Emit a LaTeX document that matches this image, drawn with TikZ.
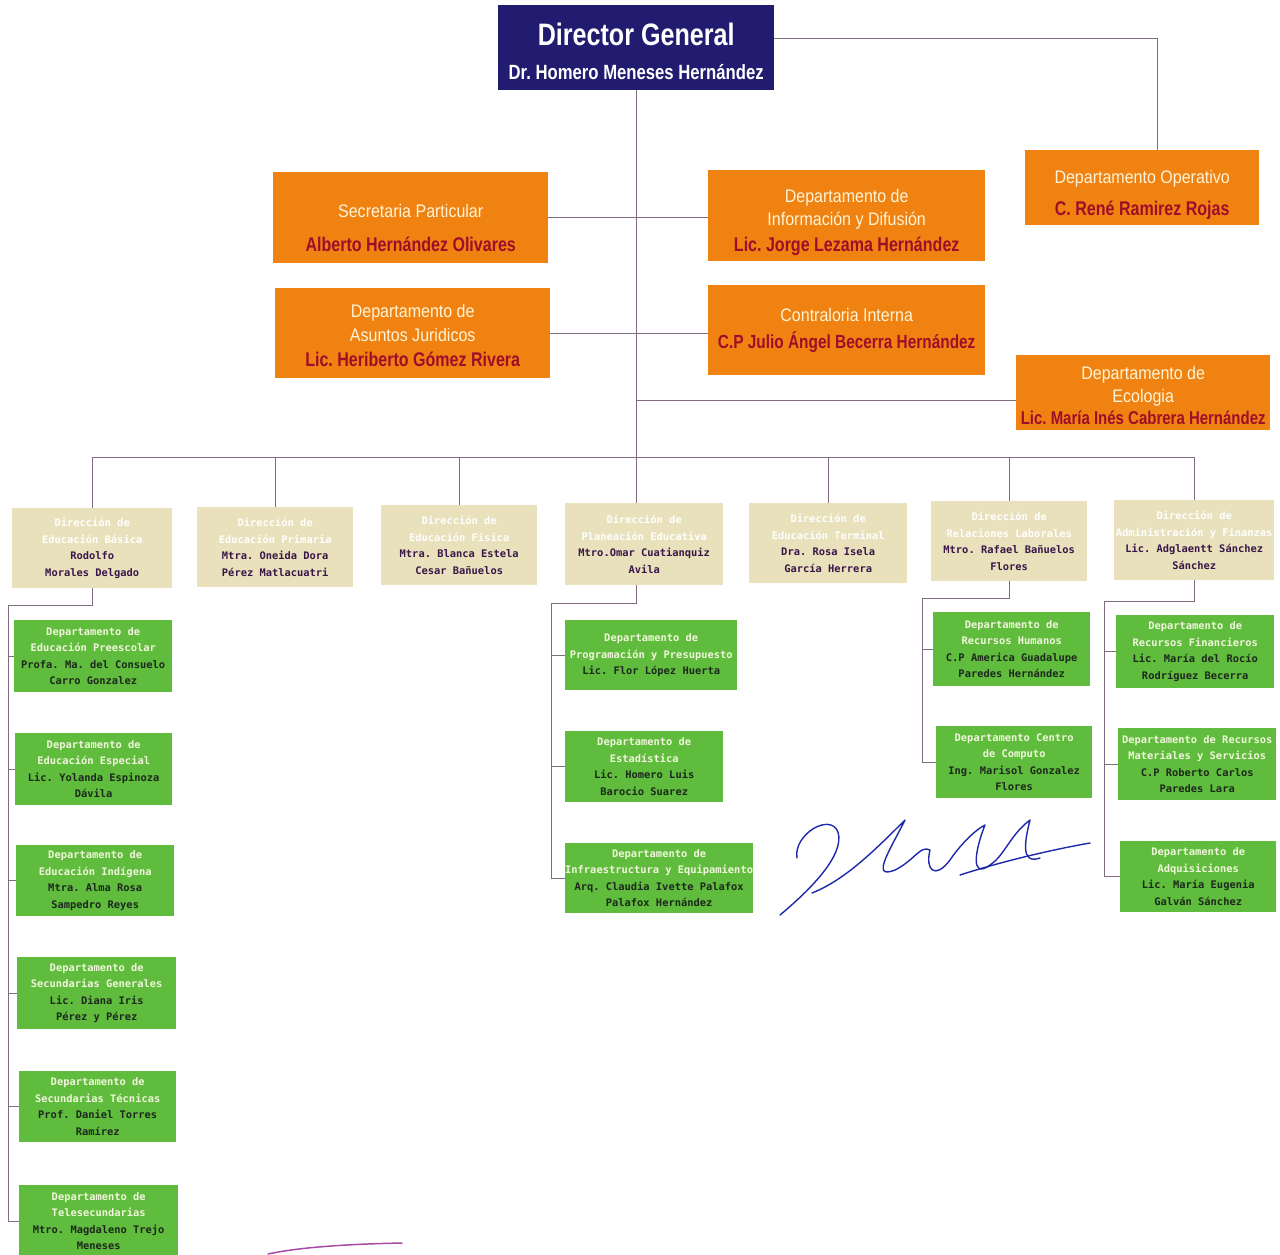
\documentclass[tikz,border=0pt]{standalone}
\usepackage{fontspec}
\newfontfamily\narrowfont[FakeStretch=0.88]{Liberation Sans}
\newfontfamily\narrowb[FakeStretch=0.81]{Liberation Sans}
\newfontfamily\boxmono{DejaVu Sans Mono}
\definecolor{navy}{RGB}{34,28,112}
\definecolor{orng}{RGB}{240,130,18}
\definecolor{otext}{RGB}{255,244,215}
\definecolor{oname}{RGB}{158,14,42}
\definecolor{beige}{RGB}{232,225,188}
\definecolor{bname}{RGB}{58,22,72}
\definecolor{grn}{RGB}{96,188,60}
\definecolor{gtext}{RGB}{240,246,220}
\definecolor{gname}{RGB}{28,40,30}
\definecolor{linec}{RGB}{128,108,128}
\definecolor{sigblue}{RGB}{30,40,170}
\newcommand\onm[1]{{\narrowb\bfseries\fontsize{19.8}{23}\selectfont\color{oname}#1}}
\newcommand\bnm[1]{\textcolor{bname}{#1}}
\newcommand\gnm[1]{\textcolor{gname}{#1}}
\frenchspacing
\begin{document}
\begin{tikzpicture}[x=1pt,y=-1pt,
  box/.style={rectangle, inner sep=0pt, anchor=north west, align=center},
  sz/.style 2 args={minimum width=#1pt, minimum height=#2pt},
  dgbox/.style={box, fill=navy, text=white, font=\narrowb\bfseries},
  obox/.style={box, fill=orng, text=otext, font=\narrowfont\fontsize{18.2}{23}\selectfont},
  bbox/.style={box, fill=beige, text=white, font=\boxmono\bfseries\fontsize{10.4}{16.5}\selectfont},
  gbox/.style={box, fill=grn, text=gtext, font=\boxmono\bfseries\fontsize{10.4}{16.5}\selectfont},
  conn/.style={draw=linec, line width=0.8pt},
  sig/.style={draw=sigblue, line width=1.4pt, line cap=round, line join=round}]
\useasboundingbox (0,0) rectangle (1280,1254);

% Director
\node[dgbox, sz={276}{85}] (dg) at (498,5) {\rule{0pt}{30pt}\fontsize{31}{24}\selectfont Director General\\[17pt]\fontsize{20.6}{24}\selectfont Dr. Homero Meneses Hernández};

% orange boxes
\node[obox, sz={275}{91}] (sec) at (273,172) {\rule{0pt}{34pt}Secretaria Particular\\[11pt]\onm{Alberto Hernández Olivares}};
\node[obox, sz={277}{91}] (info) at (708,170) {\rule{0pt}{26pt}Departamento de\\Información y Difusión\\[3pt]\onm{Lic. Jorge Lezama Hernández}};
\node[obox, sz={234}{75}] (op) at (1025,150) {\rule{0pt}{28pt}Departamento Operativo\\[9pt]\onm{C. René Ramirez Rojas}};
\node[obox, sz={275}{90}] (jur) at (275,288) {\rule{0pt}{18pt}Departamento de\\[1.5pt]Asuntos Juridicos\\[2pt]\onm{Lic. Heriberto Gómez Rivera}};
\node[obox, sz={277}{90}] (cont) at (708,285) {Contraloria Interna\\[4pt]{\narrowb\bfseries\fontsize{19}{23}\selectfont\color{oname}C.P Julio Ángel Becerra Hernández}};
\node[obox, sz={254}{75}] (eco) at (1016,355) {\rule{0pt}{18pt}Departamento de\\Ecologia\\[-1pt]{\narrowb\bfseries\fontsize{18.5}{22}\selectfont\color{oname}Lic. María Inés Cabrera Hernández}};

% beige boxes
\node[bbox, sz={160}{80}] (d1) at (12,508) {Dirección de\\Educación Básica\\\bnm{Rodolfo}\\\bnm{Morales Delgado}};
\node[bbox, sz={156}{80}] (d2) at (197,507) {Dirección de\\Educación Primaria\\\bnm{Mtra. Oneida Dora}\\\bnm{Pérez Matlacuatri}};
\node[bbox, sz={156}{80}] (d3) at (381,505) {Dirección de\\Educación Física\\\bnm{Mtra. Blanca Estela}\\\bnm{Cesar Bañuelos}};
\node[bbox, sz={158}{82}] (d4) at (565,503) {Dirección de\\Planeación Educativa\\\bnm{Mtro.Omar Cuatianquiz}\\\bnm{Avila}};
\node[bbox, sz={158}{80}] (d5) at (749,503) {Dirección de\\Educación Terminal\\\bnm{Dra. Rosa Isela}\\\bnm{García Herrera}};
\node[bbox, sz={156}{80}] (d6) at (931,501) {Dirección de\\Relaciones Laborales\\\bnm{Mtro. Rafael Bañuelos}\\\bnm{Flores}};
\node[bbox, sz={160}{80}] (d7) at (1114,500) {Dirección de\\Administración y Finanzas\\\bnm{Lic. Adglaentt Sánchez}\\\bnm{Sánchez}};

% green boxes column 1
\node[gbox, sz={158}{72}] (g1) at (14,620) {Departamento de\\Educación Preescolar\\\gnm{Profa. Ma. del Consuelo}\\\gnm{Carro Gonzalez}};
\node[gbox, sz={157}{72}] (g2) at (15,733) {Departamento de\\Educación Especial\\\gnm{Lic. Yolanda Espinoza}\\\gnm{Dávila}};
\node[gbox, sz={158}{71}] (g3) at (16,845) {Departamento de\\Educación Indígena\\\gnm{Mtra. Alma Rosa}\\\gnm{Sampedro Reyes}};
\node[gbox, sz={159}{72}] (g4) at (17,957) {Departamento de\\Secundarias Generales\\\gnm{Lic. Diana Iris}\\\gnm{Pérez y Pérez}};
\node[gbox, sz={157}{71}] (g5) at (19,1071) {Departamento de\\Secundarias Técnicas\\\gnm{Prof. Daniel Torres}\\\gnm{Ramírez}};
\node[gbox, sz={159}{72}] (g6) at (19,1185) {Departamento de\\Telesecundarias\\\gnm{Mtro. Magdaleno Trejo}\\\gnm{Meneses}};

% green boxes Planeacion
\node[gbox, sz={172}{70}] (p1) at (565,620) {Departamento de\\Programación y Presupuesto\\\gnm{Lic. Flor López Huerta}};
\node[gbox, sz={158}{71}] (p2) at (565,731) {Departamento de\\Estadística\\\gnm{Lic. Homero Luis}\\\gnm{Barocio Suarez}};
\node[gbox, sz={174}{70}] (p3) at (565,843) {Departamento de\\Infraestructura y Equipamiento\\\gnm{Arq. Claudia Ivette Palafox}\\\gnm{Palafox Hernández}};

% green boxes Relaciones Laborales
\node[gbox, sz={157}{74}] (r1) at (933,612) {Departamento de\\Recursos Humanos\\\gnm{C.P America Guadalupe}\\\gnm{Paredes Hernández}};
\node[gbox, sz={156}{72}] (r2) at (936,726) {Departamento Centro\\de Computo\\\gnm{Ing. Marisol Gonzalez}\\\gnm{Flores}};

% green boxes Administracion
\node[gbox, sz={158}{73}] (a1) at (1116,615) {Departamento de\\Recursos Financieros\\\gnm{Lic. María del Rocío}\\\gnm{Rodríguez Becerra}};
\node[gbox, sz={158}{72}] (a2) at (1118,728) {Departamento de Recursos\\Materiales y Servicios\\\gnm{C.P Roberto Carlos}\\\gnm{Paredes Lara}};
\node[gbox, sz={156}{71}] (a3) at (1120,841) {Departamento de\\Adquisiciones\\\gnm{Lic. María Eugenia}\\\gnm{Galván Sánchez}};

% connectors top
\coordinate (bus) at (0,457);
\draw[conn] (dg.south) -- (dg.south |- d4.north);
\draw[conn] ([yshift=9.5pt]dg.east) -| ([xshift=15pt]op.north);
\draw[conn] (sec.east) -- (sec.east -| info.west);
\draw[conn] (jur.east) -- (jur.east -| cont.west);
\draw[conn] (dg.south |- eco.west) ++(0,7.5) -- ([yshift=-7.5pt]eco.west);
\draw[conn] (d1.north |- bus) -- (d7.north |- bus);
\foreach \d in {d1,d2,d3,d5,d6,d7} {\draw[conn] (\d.north |- bus) -- (\d.north);}

% connectors column 1
\coordinate (c1) at (8,605);
\draw[conn] (d1.south) |- (c1) -- (c1 |- g6.west) -- (g6.west);
\foreach \g in {g1,g2,g3,g4,g5} {\draw[conn] (c1 |- \g.west) -- (\g.west);}

% connectors Planeacion
\coordinate (c4) at (551,603);
\draw[conn] (dg.south |- d4.south) |- (c4) -- (c4 |- p3.west) -- (p3.west);
\foreach \g in {p1,p2} {\draw[conn] (c4 |- \g.west) -- (\g.west);}

% connectors Relaciones
\coordinate (c6) at (922,598);
\draw[conn] (d6.south) |- (c6) -- (c6 |- r2.west) -- (r2.west);
\draw[conn] (c6 |- r1.west) -- (r1.west);

% connectors Administracion
\coordinate (c7) at (1104,601);
\draw[conn] (d7.south) |- (c7) -- (c7 |- a3.west) -- (a3.west);
\foreach \g in {a1,a2} {\draw[conn] (c7 |- \g.west) -- (\g.west);}

% signature
\draw[sig] (797,858) .. controls (793,835) and (830,812) .. (838,832) .. controls (845,855) and (810,890) .. (780,915);
\draw[sig] (812,893) .. controls (845,880) and (875,850) .. (905,820) .. controls (890,850) and (870,880) .. (895,870) .. controls (915,860) and (920,845) .. (930,850) .. controls (925,870) and (935,880) .. (950,860) .. controls (960,845) and (975,830) .. (985,825) .. controls (975,850) and (970,880) .. (990,865) .. controls (1005,855) and (1010,835) .. (1030,820) .. controls (1025,840) and (1020,865) .. (1040,858);
\draw[sig] (960,875) .. controls (1000,862) and (1050,850) .. (1090,843);
\draw[line width=1.5pt, draw=violet!70, line cap=round] (268,1254) .. controls (300,1247) and (350,1244) .. (402,1243);
\end{tikzpicture}
\end{document}
